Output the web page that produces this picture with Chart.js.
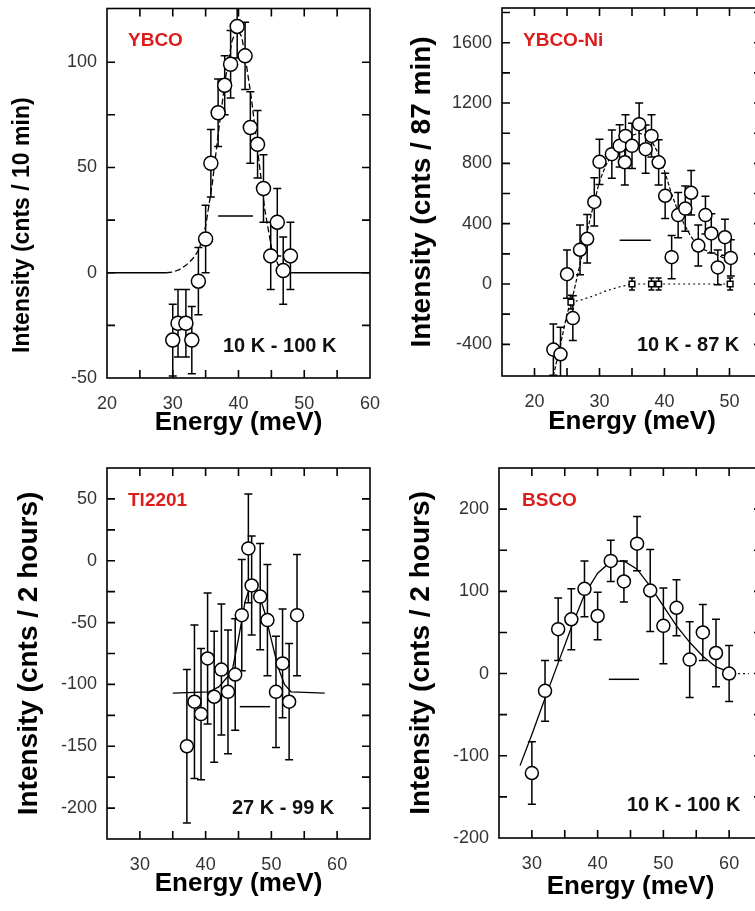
<!DOCTYPE html>
<html>
<head>
<meta charset="utf-8">
<title>Resonance intensity vs energy</title>
<script src="https://cdn.jsdelivr.net/npm/chart.js@4.4.1/dist/chart.umd.min.js"></script>
<style>
  html, body { margin: 0; padding: 0; background: #fff; }
  #figure { position: relative; width: 755px; height: 911px; overflow: hidden; background: #fff; }
  #figure canvas { position: absolute; }
  .tag { position: absolute; font-family: "Liberation Sans", Arial, sans-serif; font-weight: bold; line-height: 1; white-space: nowrap; }
  .sample { color: #dd1c1c; font-size: 19px; }
  .temps { color: #111; font-size: 20px; }
</style>
</head>
<body>
<div id="figure">
  <canvas id="ybco" width="380" height="460" style="left:0;top:0"></canvas>
  <canvas id="ybcoNi" width="400" height="460" style="left:380px;top:0"></canvas>
  <canvas id="tl2201" width="380" height="451" style="left:0;top:460px"></canvas>
  <canvas id="bsco" width="400" height="451" style="left:380px;top:460px"></canvas>

  <div class="tag sample" style="left:128px;top:30px">YBCO</div>
  <div class="tag sample" style="left:523px;top:30px">YBCO-Ni</div>
  <div class="tag sample" style="left:128px;top:490px">Tl2201</div>
  <div class="tag sample" style="left:522px;top:490px">BSCO</div>

  <div class="tag temps" style="left:223px;top:335px">10 K - 100 K</div>
  <div class="tag temps" style="left:637px;top:334px">10 K - 87 K</div>
  <div class="tag temps" style="left:232px;top:797px">27 K - 99 K</div>
  <div class="tag temps" style="left:627px;top:794px">10 K - 100 K</div>
</div>

<script>
'use strict';

// ---- YBCO (10 K - 100 K) ----
const ybcoEnergy = [30.0, 30.8, 32.0, 32.9, 33.9, 35.0, 35.8, 36.9, 37.9, 38.8, 39.8, 41.0, 41.8, 42.9, 43.8, 44.9, 45.9, 46.8, 47.9];
const ybcoCounts = [-32, -24, -24, -32, -4, 16, 52, 76, 89, 99, 117, 103, 69, 61, 40, 8, 24, 1, 8];
const ybcoErr = [17, 16, 16, 16, 16, 16, 16, 16, 14, 16, 15, 16, 17, 16, 16, 16, 16, 16, 16];
const ybcoFitE = [20, 29, 30, 31, 32, 33, 34, 35, 36, 37, 38, 39, 39.8, 40.5, 41, 42, 43, 44, 45, 46, 47, 48, 60];
const ybcoFitI = [0, 0, 0.3, 1.5, 3.5, 6.5, 11, 22, 42, 68, 92, 110, 116, 112, 103, 82, 56, 30, 12, 4, 1, 0, 0];
const ybcoResE = [36.9, 42.2];
const ybcoResI = [27, 27];
const ybcoXTicks = [20, 25, 30, 35, 40, 45, 50, 55, 60];
const ybcoXLabels = [20, 30, 40, 50, 60];
const ybcoYTicks = [-50, -25, 0, 25, 50, 75, 100, 125];
const ybcoYLabels = [-50, 0, 50, 100];

// ---- YBCO-Ni (10 K - 87 K) ----
const niEnergy = [22.9, 24.0, 25.0, 25.9, 27.0, 28.1, 29.2, 30.0, 31.9, 33.1, 33.9, 34.0, 35.0, 36.1, 37.1, 38.0, 39.1, 40.1, 41.1, 42.1, 43.2, 44.1, 45.2, 46.3, 47.2, 48.2, 49.3, 50.2];
const niCounts = [-435, -466, 65, -226, 227, 300, 544, 810, 861, 916, 807, 982, 916, 1060, 894, 982, 807, 585, 178, 457, 500, 605, 255, 457, 335, 110, 310, 173];
const niErr = [170, 180, 160, 148, 165, 160, 160, 150, 160, 140, 150, 140, 150, 140, 160, 140, 150, 150, 143, 150, 150, 148, 136, 125, 130, 115, 120, 120];
const niRefEnergy = [25.6, 35.0, 38.0, 39.1, 50.1];
const niRefCounts = [-120, 0, 0, 0, 0];
const niRefErr = [45, 40, 40, 40, 40];
const niFitE = [22.9, 24, 25, 26, 27, 28, 29, 30, 31, 32, 33, 34, 35, 36, 37, 38, 39, 40, 41, 42, 43, 44, 45, 46, 47, 48, 49, 50.5];
const niFitI = [-610, -400, -200, -60, 130, 330, 510, 680, 790, 860, 910, 950, 985, 1000, 990, 950, 870, 750, 610, 490, 400, 320, 260, 230, 210, 195, 175, 150];
const niRefFitE = [25.6, 27, 29, 31, 33, 35, 50];
const niRefFitI = [-120, -108, -80, -46, -20, 0, 0];
const niResE = [33.1, 37.9];
const niResI = [290, 290];
const niXTicks = [15, 20, 25, 30, 35, 40, 45, 50, 55];
const niXLabels = [20, 30, 40, 50];
const niYTicks = [-600, -400, -200, 0, 200, 400, 600, 800, 1000, 1200, 1400, 1600, 1800];
const niYLabels = [-400, 0, 400, 800, 1200, 1600];

// ---- Tl2201 (27 K - 99 K) ----
const tlEnergy = [37.15, 38.3, 39.3, 40.3, 41.3, 42.4, 43.4, 44.5, 45.5, 46.5, 47.0, 48.3, 49.4, 50.7, 51.7, 52.7, 53.9];
const tlCounts = [-150, -114, -124, -79, -110, -88, -106, -92, -44, 10, -20, -29, -48, -106, -83, -114, -44];
const tlErr = [62, 62, 53, 53, 53, 53, 50, 45, 45, 44, 40, 43, 45, 45, 44, 47, 49];
const tlFitE = [35, 40.5, 42, 43, 44, 45, 46, 47, 48, 49, 50, 51, 52, 53, 58.1];
const tlFitI = [-107, -106, -102, -96, -90, -63, -33, -17, -25, -42, -64, -86, -100, -106, -107];
const tlResE = [45.2, 49.8];
const tlResI = [-118, -118];
const tlXTicks = [25, 30, 35, 40, 45, 50, 55, 60, 65];
const tlXLabels = [30, 40, 50, 60];
const tlYTicks = [-225, -200, -175, -150, -125, -100, -75, -50, -25, 0, 25, 50, 75];
const tlYLabels = [-200, -150, -100, -50, 0, 50];

// ---- BSCO (10 K - 100 K) ----
const bscoEnergy = [30, 32, 34, 36, 38, 40, 42, 44, 46, 48, 50, 52, 54, 56, 58, 60];
const bscoCounts = [-121, -21, 54, 66, 103, 70, 137, 112, 158, 101, 58, 80, 17, 50, 25, 0];
const bscoErr = [38, 37, 38, 37, 34, 29, 25, 25, 33, 50, 46, 34, 46, 34, 41, 34];
const bscoFitE = [28.2, 30, 32, 34, 36, 38, 40, 42, 44, 46, 48, 50, 52, 54, 56, 58, 60, 60.6, 63];
const bscoFitI = [-112, -74, -30, 13, 56, 96, 122, 136, 137, 127, 106, 82, 58, 38, 21, 8, 2, 0, 0];
const bscoResE = [41.7, 46.3];
const bscoResI = [-7, -7];
const bscoXTicks = [25, 30, 35, 40, 45, 50, 55, 60, 65];
const bscoXLabels = [30, 40, 50, 60];
const bscoYTicks = [-200, -150, -100, -50, 0, 50, 100, 150, 200, 250];
const bscoYLabels = [-200, -100, 0, 100, 200];

const FONT = "'Liberation Sans', Arial, Helvetica, sans-serif";

function pairs(xs, ys) {
    return xs.map((x, i) => ({x: x, y: ys[i]}));
}

// error bars go under the markers, clipped to the plot box
const errorBars = {
    id: 'errorBars',
    beforeDatasetsDraw(chart) {
        const {ctx, chartArea: a, scales} = chart;
        ctx.save();
        ctx.beginPath();
        ctx.rect(a.left, a.top, a.right - a.left, a.bottom - a.top);
        ctx.clip();
        ctx.strokeStyle = '#000';
        ctx.lineWidth = 1.5;
        chart.data.datasets.forEach(ds => {
            if (!ds.errors) return;
            const cap = ds.capHalf || 4;
            ds.data.forEach((p, i) => {
                const x = scales.x.getPixelForValue(p.x);
                const lo = scales.y.getPixelForValue(p.y - ds.errors[i]);
                const hi = scales.y.getPixelForValue(p.y + ds.errors[i]);
                ctx.beginPath();
                ctx.moveTo(x, lo); ctx.lineTo(x, hi);
                ctx.moveTo(x - cap, lo); ctx.lineTo(x + cap, lo);
                ctx.moveTo(x - cap, hi); ctx.lineTo(x + cap, hi);
                ctx.stroke();
            });
        });
        ctx.restore();
    }
};

// closed box with inward ticks on all four sides
const frameTicks = {
    id: 'frameTicks',
    afterDraw(chart) {
        const {ctx, chartArea: a, scales} = chart;
        const len = 8;
        ctx.save();
        ctx.strokeStyle = '#000';
        ctx.lineWidth = 1.6;
        ctx.beginPath();
        scales.x.ticks.forEach(t => {
            const x = scales.x.getPixelForValue(t.value);
            if (x < a.left + 2 || x > a.right - 2) return;
            ctx.moveTo(x, a.bottom); ctx.lineTo(x, a.bottom - len);
            ctx.moveTo(x, a.top); ctx.lineTo(x, a.top + len);
        });
        scales.y.ticks.forEach(t => {
            const y = scales.y.getPixelForValue(t.value);
            if (y < a.top + 2 || y > a.bottom - 2) return;
            ctx.moveTo(a.left, y); ctx.lineTo(a.left + len, y);
            ctx.moveTo(a.right, y); ctx.lineTo(a.right - len, y);
        });
        ctx.stroke();
        ctx.strokeRect(a.left, a.top, a.right - a.left, a.bottom - a.top);
        ctx.restore();
    }
};

function markers(xs, ys, errs, style, radius) {
    return {
        data: pairs(xs, ys),
        errors: errs,
        showLine: false,
        pointStyle: style,
        pointRadius: radius,
        pointBackgroundColor: '#fff',
        pointBorderColor: '#000',
        pointBorderWidth: 1.5
    };
}

function curve(xs, ys, width, dash) {
    return {
        data: pairs(xs, ys),
        borderColor: '#000',
        borderWidth: width,
        borderDash: dash || [],
        pointRadius: 0,
        tension: 0,
        fill: false
    };
}

// p: ranges, tick lists, plot box inside the canvas and title settings
function makePanel(id, p, datasets) {
    const canvas = document.getElementById(id);
    const a = p.area;
    return new Chart(canvas, {
        type: 'line',
        data: {datasets: datasets},
        options: {
            responsive: false,
            animation: false,
            devicePixelRatio: 1,
            events: [],
            layout: {padding: {left: 0, top: a.top, right: canvas.width - a.right, bottom: 0}},
            plugins: {legend: {display: false}, tooltip: {enabled: false}},
            scales: {
                x: {
                    type: 'linear',
                    min: p.xRange[0],
                    max: p.xRange[1],
                    grid: {display: false, drawTicks: false},
                    border: {display: false},
                    afterBuildTicks: scale => { scale.ticks = p.xTicks.map(v => ({value: v})); },
                    ticks: {
                        autoSkip: false,
                        maxRotation: 0,
                        padding: 15,
                        color: '#333',
                        font: {family: FONT, size: 18},
                        callback: v => (p.xLabels.includes(v) ? String(v) : '')
                    },
                    title: {
                        display: true,
                        text: 'Energy (meV)',
                        color: '#000',
                        font: {family: FONT, size: 26, weight: 'bold'},
                        padding: {top: 0, bottom: p.xTitlePad}
                    },
                    afterFit(scale) {
                        scale.height = canvas.height - a.bottom;
                        scale.paddingLeft = 0;
                        scale.paddingRight = 0;
                    }
                },
                y: {
                    type: 'linear',
                    min: p.yRange[0],
                    max: p.yRange[1],
                    grid: {display: false, drawTicks: false},
                    border: {display: false},
                    afterBuildTicks: scale => { scale.ticks = p.yTicks.map(v => ({value: v})); },
                    ticks: {
                        autoSkip: false,
                        padding: 10,
                        color: '#333',
                        font: {family: FONT, size: 18},
                        callback: v => (p.yLabels.includes(v) ? String(v) : '')
                    },
                    title: {
                        display: true,
                        text: p.yTitle,
                        color: '#000',
                        font: {family: FONT, size: p.yTitleSize, weight: 'bold'},
                        padding: {top: p.yTitlePad, bottom: 0}
                    },
                    afterFit(scale) {
                        scale.width = a.left;
                        scale.paddingTop = 0;
                        scale.paddingBottom = 0;
                    }
                }
            }
        },
        plugins: [errorBars, frameTicks]
    });
}

// YBCO: fit is solid on the flat baseline, dashed over the peak
const ybcoFit = curve(ybcoFitE, ybcoFitI, 1.3);
ybcoFit.segment = {borderDash: c => (c.p0.parsed.y > 0.2 || c.p1.parsed.y > 0.2 ? [6, 3] : undefined)};
makePanel('ybco', {
    xRange: [20, 60], xTicks: ybcoXTicks, xLabels: ybcoXLabels,
    yRange: [-50, 125.5], yTicks: ybcoYTicks, yLabels: ybcoYLabels,
    area: {left: 107, top: 7, right: 370, bottom: 378},
    xTitlePad: 22,
    // trailing spaces push this title down the axis, as in the original layout
    yTitle: 'Intensity (cnts / 10 min)          ', yTitleSize: 23, yTitlePad: 9
}, [
    markers(ybcoEnergy, ybcoCounts, ybcoErr, 'circle', 7),
    ybcoFit,
    curve(ybcoResE, ybcoResI, 1.5)
]);

makePanel('ybcoNi', {
    xRange: [15, 55], xTicks: niXTicks, xLabels: niXLabels,
    yRange: [-610, 1830], yTicks: niYTicks, yLabels: niYLabels,
    area: {left: 122, top: 5, right: 382, bottom: 376},
    xTitlePad: 23,
    yTitle: 'Intensity (cnts / 87 min)', yTitleSize: 28, yTitlePad: 25
}, [
    markers(niEnergy, niCounts, niErr, 'circle', 6.5),
    Object.assign(markers(niRefEnergy, niRefCounts, niRefErr, 'rect', 4), {capHalf: 3}),
    curve(niFitE, niFitI, 1.2, [4, 2]),
    curve(niRefFitE, niRefFitI, 1.2, [2, 3]),
    curve(niResE, niResI, 1.5)
]);

makePanel('tl2201', {
    xRange: [25, 65], xTicks: tlXTicks, xLabels: tlXLabels,
    yRange: [-225, 75], yTicks: tlYTicks, yLabels: tlYLabels,
    area: {left: 107, top: 7, right: 370, bottom: 379},
    xTitlePad: 12,
    yTitle: 'Intensity (cnts / 2 hours)', yTitleSize: 28, yTitlePad: 12
}, [
    markers(tlEnergy, tlCounts, tlErr, 'circle', 6.5),
    curve(tlFitE, tlFitI, 1.3),
    curve(tlResE, tlResI, 1.5)
]);

const bscoFit = curve(bscoFitE, bscoFitI, 1.3);
bscoFit.segment = {borderDash: c => (c.p0.parsed.x >= 60.5 ? [2, 3] : undefined)};
makePanel('bsco', {
    xRange: [25, 65], xTicks: bscoXTicks, xLabels: bscoXLabels,
    yRange: [-200, 250], yTicks: bscoYTicks, yLabels: bscoYLabels,
    area: {left: 119, top: 7, right: 382, bottom: 378},
    xTitlePad: 9,
    yTitle: 'Intensity (cnts / 2 hours)', yTitleSize: 28, yTitlePad: 24
}, [
    markers(bscoEnergy, bscoCounts, bscoErr, 'circle', 6.5),
    bscoFit,
    curve(bscoResE, bscoResI, 1.5)
]);
</script>
</body>
</html>
